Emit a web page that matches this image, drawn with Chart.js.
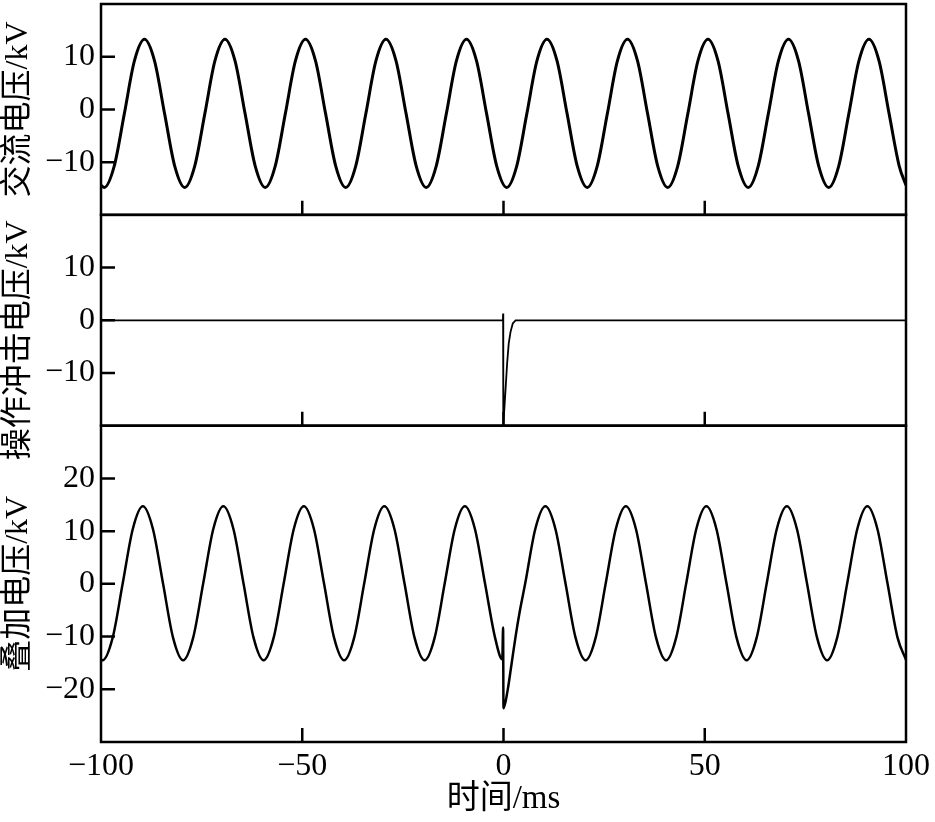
<!DOCTYPE html>
<html>
<head>
<meta charset="utf-8">
<script src="https://cdn.jsdelivr.net/npm/chart.js@4.4.1/dist/chart.umd.min.js"></script>
<style>
  html, body { margin: 0; padding: 0; background: #fff; }
  #wrap { width: 935px; height: 822px; }
</style>
</head>
<body>
<div id="wrap"><canvas id="myChart" width="935" height="822"></canvas></div>
<script>
// 坐标轴标题与刻度
var panelTitles = ["交流电压/kV", "操作冲击电压/kV", "叠加电压/kV"];
var xTitle = "时间/ms";
var xTicks = [-100, -50, 0, 50, 100];

// 交流电压 (上图) —— 从图上读取, 每 2.5 ms 一点
var acTimes = [-100].concat(Array.from({length: 80}, function (_, k) { return -99.2 + 2.5 * k; }), [100]);
var acValues = [-14.4,
  -14.8, -10.7, -0.8, 9.2, 13.3, 9.2, -0.8, -10.7,
  -14.8, -10.7, -0.8, 9.2, 13.3, 9.2, -0.8, -10.7,
  -14.8, -10.7, -0.8, 9.2, 13.3, 9.2, -0.8, -10.7,
  -14.8, -10.7, -0.8, 9.2, 13.3, 9.2, -0.8, -10.7,
  -14.8, -10.7, -0.8, 9.2, 13.3, 9.2, -0.8, -10.7,
  -14.8, -10.7, -0.8, 9.2, 13.3, 9.2, -0.8, -10.7,
  -14.8, -10.7, -0.8, 9.2, 13.3, 9.2, -0.8, -10.7,
  -14.8, -10.7, -0.8, 9.2, 13.3, 9.2, -0.8, -10.7,
  -14.8, -10.7, -0.8, 9.2, 13.3, 9.2, -0.8, -10.7,
  -14.8, -10.7, -0.8, 9.2, 13.3, 9.2, -0.8, -10.7,
  -14.4];

// 操作冲击电压 (中图)
var pulseTimes = [-100, -0.15, -0.1, -0.05, 0.5, 0.9, 1.3, 1.75, 2.3, 3.0, 100];
var pulseValues = [0, 0, 1.3, -20, -13.2, -8.2, -4.4, -2.2, -0.6, 0, 0];

// 叠加电压 (下图)
var sumTimes = [-100].concat(Array.from({length: 80}, function (_, k) { return -99.6 + 2.5 * k; }), [100]);
var sumValues = [-14.4,
  -14.5, -10.2, 0.1, 10.4, 14.7, 10.4, 0.1, -10.2,
  -14.5, -10.2, 0.1, 10.4, 14.7, 10.4, 0.1, -10.2,
  -14.5, -10.2, 0.1, 10.4, 14.7, 10.4, 0.1, -10.2,
  -14.5, -10.2, 0.1, 10.4, 14.7, 10.4, 0.1, -10.2,
  -14.5, -10.2, 0.1, 10.4, 14.7, 10.4, 0.1, -10.2,
  -14.5, -10.2, 0.1, 10.4, 14.7, 10.4, 0.1, -10.2,
  -14.5, -10.2, 0.1, 10.4, 14.7, 10.4, 0.1, -10.2,
  -14.5, -10.2, 0.1, 10.4, 14.7, 10.4, 0.1, -10.2,
  -14.5, -10.2, 0.1, 10.4, 14.7, 10.4, 0.1, -10.2,
  -14.5, -10.2, 0.1, 10.4, 14.7, 10.4, 0.1, -10.2,
  -14.4];
// 冲击叠加段
var surgeTimes = [-0.3, -0.1, 0, 1, 2, 3, 4];
var surgeValues = [-14.3, -8.3, -23.6, -20.3, -15.2, -10.0, -5.4];

function toPoints(xs, ys) {
  return xs.map(function (x, i) { return {x: x, y: ys[i]}; });
}

var sumPoints = toPoints(sumTimes, sumValues)
  .filter(function (p) { return p.x < -1 || p.x > 4.5; })
  .concat(toPoints(surgeTimes, surgeValues))
  .sort(function (a, b) { return a.x - b.x; });

var numFont = {family: '"Liberation Serif", "Times New Roman", serif', size: 32};
var titleFont = '32px "Liberation Serif", "Noto Sans CJK SC", serif';
var minus = function (v) { return String(v).replace("-", "\u2212"); };

function yAxis(min, max, weight) {
  return {
    type: "linear",
    position: "left",
    stack: "panels",
    stackWeight: weight,
    min: min,
    max: max,
    grid: {display: false, drawTicks: false},
    border: {display: false},
    ticks: {stepSize: 10, padding: 6, color: "#000", font: numFont, callback: minus},
    afterBuildTicks: function (s) {
      s.ticks = s.ticks.filter(function (t) { return t.value > s.min && t.value < s.max; });
    },
    afterFit: function (s) {
      s.width = 101;
      s.paddingTop = 0;
      s.paddingBottom = 0;
    }
  };
}

// 画边框、向内刻度和纵轴标题
var panelAxes = ["yTop", "yMid", "yBot"];
var titleShift = [0, 20, 0];
var framePlugin = {
  id: "frame",
  afterDatasetsDraw: function (chart) {
    var ctx = chart.ctx, area = chart.chartArea, xs = chart.scales.x;
    ctx.save();
    ctx.strokeStyle = "#000";
    ctx.lineWidth = 2.5;
    panelAxes.forEach(function (id) {
      var ys = chart.scales[id];
      ctx.strokeRect(area.left, ys.top, area.right - area.left, ys.bottom - ys.top);
      ctx.beginPath();
      ys.ticks.forEach(function (t) {
        var y = ys.getPixelForValue(t.value);
        ctx.moveTo(area.left, y);
        ctx.lineTo(area.left + 14, y);
      });
      xs.ticks.forEach(function (t) {
        if (t.value <= xs.min || t.value >= xs.max) return;
        var x = xs.getPixelForValue(t.value);
        ctx.moveTo(x, ys.bottom);
        ctx.lineTo(x, ys.bottom - 14);
      });
      ctx.stroke();
    });
    ctx.fillStyle = "#000";
    ctx.font = titleFont;
    ctx.textAlign = "center";
    ctx.textBaseline = "middle";
    panelAxes.forEach(function (id, i) {
      var ys = chart.scales[id];
      ctx.save();
      ctx.translate(19, (ys.top + ys.bottom) / 2 + titleShift[i]);
      ctx.rotate(-Math.PI / 2);
      ctx.fillText(panelTitles[i], 0, 0);
      ctx.restore();
    });
    ctx.restore();
  }
};

var canvas = document.getElementById("myChart");
var myChart = new Chart(canvas, {
  type: "line",
  data: {
    datasets: [
      {label: panelTitles[0], data: toPoints(acTimes, acValues), yAxisID: "yTop",
       borderColor: "#000", borderWidth: 3, pointRadius: 0, cubicInterpolationMode: "monotone"},
      {label: panelTitles[1], data: toPoints(pulseTimes, pulseValues), yAxisID: "yMid",
       borderColor: "#000", borderWidth: 1.8, pointRadius: 0, tension: 0},
      {label: panelTitles[2], data: sumPoints, yAxisID: "yBot",
       borderColor: "#000", borderWidth: 2.5, pointRadius: 0, cubicInterpolationMode: "monotone"}
    ]
  },
  options: {
    responsive: false,
    animation: false,
    events: [],
    layout: {padding: {top: 4, right: 27, left: 0, bottom: 0}},
    plugins: {legend: {display: false}, tooltip: {enabled: false}},
    scales: {
      x: {
        type: "linear",
        position: "bottom",
        min: xTicks[0],
        max: xTicks[xTicks.length - 1],
        grid: {display: false, drawTicks: false},
        border: {display: false},
        afterBuildTicks: function (s) { s.ticks = xTicks.map(function (v) { return {value: v}; }); },
        ticks: {padding: 5, color: "#000", font: numFont, callback: minus, maxRotation: 0},
        title: {display: true, text: xTitle, color: "#000", padding: {top: 0, bottom: 3},
                font: {family: '"Liberation Serif", "Noto Sans CJK SC", serif', size: 33}},
        afterFit: function (s) { s.height = 80; }
      },
      yBot: yAxis(-30, 30, 3),
      yMid: yAxis(-20, 20, 2),
      yTop: yAxis(-20, 20, 2)
    }
  },
  plugins: [framePlugin]
});
</script>
</body>
</html>
